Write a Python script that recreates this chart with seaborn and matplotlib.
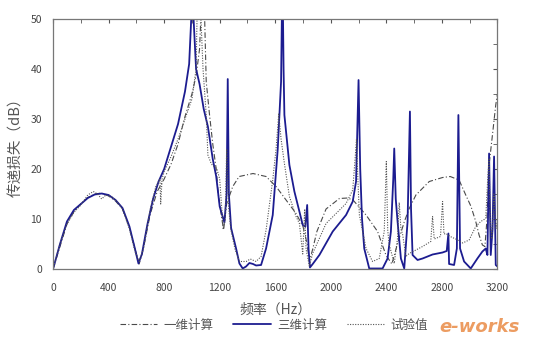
import numpy as np
import pandas as pd
import matplotlib
matplotlib.use("Agg")
import matplotlib.pyplot as plt
from matplotlib.ticker import MultipleLocator
import seaborn as sns

# 三维计算 (3-D calculation), solid blue
f_3d = [0, 50, 100, 150, 200, 250, 300, 350, 400, 450, 500, 550, 590, 615, 640, 680, 720, 760,
        800, 850, 900, 950, 980, 995, 1003, 1012, 1030, 1055, 1085, 1115, 1150, 1175, 1200, 1234,
        1250, 1258, 1266, 1282, 1318, 1342, 1366, 1390, 1414, 1440, 1462, 1498, 1534, 1582, 1618,
        1642, 1652, 1660, 1666, 1702, 1738, 1774, 1798, 1817, 1830, 1840, 1850, 1870, 1918, 2014,
        2110, 2158, 2182, 2200, 2212, 2225, 2241, 2277, 2373, 2409, 2433, 2450, 2457, 2468, 2481,
        2505, 2529, 2553, 2570, 2578, 2589, 2625, 2661, 2733, 2805, 2835, 2847, 2852, 2888, 2908,
        2919, 2931, 2960, 3008, 3056, 3092, 3116, 3128, 3140, 3152, 3165, 3176, 3188, 3200]
db_3d = [0, 5, 9.5, 11.8, 13, 14.2, 14.9, 15.1, 14.8, 13.8, 12.2, 8.5, 4, 1.1, 3, 9, 14, 17.5,
         20, 24.5, 29, 35.5, 41, 50, 60, 50, 40, 37, 32, 28.5, 22, 18.5, 12.5, 9.3,
         15, 38, 15, 8.2, 4.1, 1.1, 0.1, 0.5, 1.2, 1.0, 0.7, 0.8, 4.1, 10.8, 24,
         37.5, 60, 40, 30.8, 20.8, 15.5, 11.5, 8.8, 8.5, 12.8, 4, 0.3, 1, 2.8, 7.5,
         10.8, 13.5, 17.5, 37.8, 20, 10, 4.1, 0.1, 0.1, 2.1, 7.5, 18, 24.1, 14, 9.5,
         2.1, 0.1, 9.5, 31.5, 12, 2.8, 1.8, 2.1, 2.9, 3.3, 3.6, 7.1, 1, 0.8, 4.1,
         30.8, 4.1, 1.5, 0.1, 2.1, 3.5, 4.1, 2.8, 23.1, 2.8, 8, 22.5, 0.8, 0.5]

# 一维计算 (1-D calculation), dash-dot
f_1d = [0, 50, 100, 150, 200, 250, 300, 350, 400, 450, 500, 550, 590, 620, 650, 700, 750, 800,
        850, 900, 950, 1000, 1031, 1055, 1067, 1075, 1090, 1103, 1127, 1151, 1175, 1190, 1210,
        1228, 1250, 1294, 1340, 1440, 1534, 1606, 1678, 1750, 1800, 1830, 1846, 1870, 1900, 1966,
        2062, 2120, 2160, 2254, 2337, 2397, 2440, 2480, 2530, 2565, 2613, 2709, 2805, 2860, 2924,
        2972, 3010, 3044, 3068, 3092, 3110, 3125, 3140, 3165, 3188, 3200]
db_1d = [0, 4.5, 9, 11.5, 13, 14.3, 15, 15.2, 14.6, 13.6, 12, 8.3, 4, 1, 4, 11, 15.5, 18,
         21, 25, 30.5, 35, 38.8, 44, 52, 60, 52, 37.5, 30.8, 24.8, 20, 15, 11,
         7.8, 13, 16.5, 18.5, 19.1, 18.5, 16.5, 13.8, 11.1, 8.5, 5, 1.5, 4, 7.5, 12,
         14.1, 14.2, 13.8, 10.8, 7.5, 2.8, 1, 5, 9.5, 12.1, 14.8, 17.5, 18.3, 18.5, 17.8,
         14.8, 12.5, 9.5, 6.8, 4.8, 4.5, 10, 20.8, 27, 32.8, 35]

# 试验值 (measured), dotted
f_test = [0, 50, 100, 150, 200, 250, 290, 320, 350, 380, 420, 460, 500, 550, 590, 620, 650, 700,
          740, 770, 775, 785, 800, 850, 900, 950, 1000, 1030, 1040, 1050, 1065, 1080, 1103, 1115,
          1140, 1180, 1200, 1215, 1225, 1240, 1250, 1258, 1265, 1280, 1310, 1342, 1391, 1420, 1462,
          1498, 1534, 1582, 1606, 1625, 1642, 1666, 1702, 1750, 1774, 1798, 1812, 1822, 1846, 1869,
          1966, 2110, 2158, 2175, 2185, 2195, 2206, 2254, 2301, 2349, 2385, 2400, 2410, 2420, 2457,
          2480, 2493, 2505, 2517, 2541, 2565, 2661, 2720, 2733, 2745, 2790, 2805, 2815, 2829, 2860,
          2900, 2950, 2996, 3044, 3080, 3116, 3130, 3140, 3148, 3160, 3175, 3190, 3200]
db_test = [0, 5, 9, 11.3, 12.8, 14.8, 15.5, 15, 14, 14.8, 14.5, 13.5, 12, 8, 3.5, 1.5, 4, 12,
           16.5, 18, 13, 18, 19.5, 22.5, 26, 30, 34, 40, 55, 60, 50, 40, 30.8, 22.8,
           21, 20, 18, 12, 8, 10, 24, 18, 12, 8, 4, 1.5, 1.5, 2, 1.5,
           2.5, 7.8, 17.8, 24, 31, 26, 21.1, 14.5, 10.5, 9.1, 3, 12, 4, 0.5, 3.1,
           9.1, 13.1, 15.8, 22, 26, 18, 10.8, 4.1, 1.5, 2.1, 7.5, 21.5, 7.8, 5, 1.1,
           6, 13.3, 8, 7, 2.5, 3.1, 4.5, 5.5, 10.5, 6, 6.5, 13.5, 7, 7.1, 6.5,
           6, 5.2, 5.8, 8.5, 9.5, 10.1, 18, 22, 10, 6, 15, 8, 10]

x_ticks = [0, 400, 800, 1200, 1600, 2000, 2400, 2800, 3200]
y_ticks = [0, 10, 20, 30, 40, 50]

sns.set_style("white")
plt.rcParams['font.family'] = ['Noto Sans CJK SC', 'DejaVu Sans']

fig = plt.figure(figsize=(5.36, 3.53), dpi=100)
ax = fig.add_axes([0.099, 0.238, 0.829, 0.708])

df_1d = pd.DataFrame({'freq': f_1d, 'tl': db_1d})
df_3d = pd.DataFrame({'freq': f_3d, 'tl': db_3d})
df_test = pd.DataFrame({'freq': f_test, 'tl': db_test})

sns.lineplot(data=df_1d, x='freq', y='tl', ax=ax, color='#4a4a4a', lw=0.8,
             linestyle=(0, (5, 2, 1, 2)), label='一维计算')
sns.lineplot(data=df_3d, x='freq', y='tl', ax=ax, color='#1c1c90', lw=1.3,
             label='三维计算')
sns.lineplot(data=df_test, x='freq', y='tl', ax=ax, color='#555555', lw=0.8,
             linestyle=(0, (1, 1.3)), label='试验值')

ax.set_xlim(0, 3200)
ax.set_ylim(0, 50)
ax.set_xticks(x_ticks)
ax.set_yticks(y_ticks)
ax.xaxis.set_minor_locator(MultipleLocator(200))
ax.yaxis.set_minor_locator(MultipleLocator(5))
ax.tick_params(which='both', direction='in', top=True, right=True,
               labelsize=7.5, labelcolor='#444444', color='#555555')
ax.tick_params(axis='x', pad=10)
ax.tick_params(axis='y', pad=8)
ax.tick_params(which='major', length=3)
ax.tick_params(which='minor', length=3)
for sp in ax.spines.values():
    sp.set_color('#777777')
    sp.set_linewidth(0.9)

ax.set_xlabel('频率（Hz）', fontsize=10, color='#555555', labelpad=7)
ax.set_ylabel('传递损失（dB）', fontsize=10.5, color='#555555', labelpad=5)

ax.legend(loc='center', bbox_to_anchor=(0.497, -0.225), ncol=3, frameon=False,
          fontsize=9, handlelength=3.0, columnspacing=1.6, handletextpad=0.5,
          labelcolor='#555555')

fig.text(0.895, 0.075, 'e-works', fontsize=13, fontstyle='italic', fontweight='bold',
         color='#e8833a', alpha=0.8, ha='center', va='center', family='DejaVu Sans')

fig.savefig('out.png', dpi=100, facecolor='white')
